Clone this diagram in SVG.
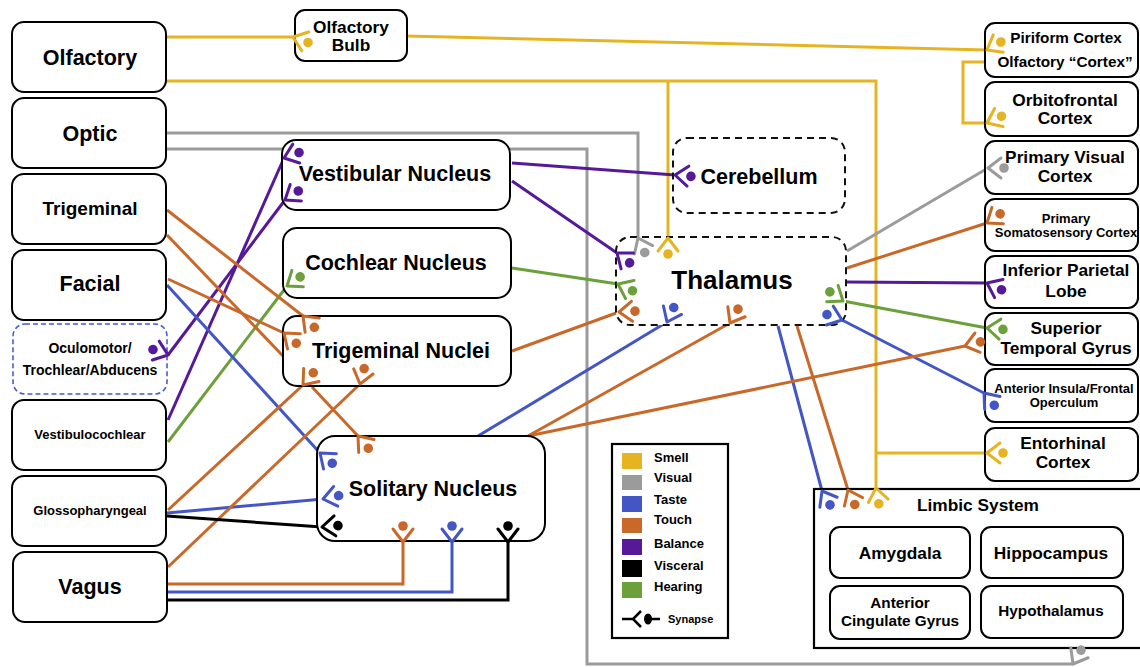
<svg xmlns="http://www.w3.org/2000/svg" xmlns:xlink="http://www.w3.org/1999/xlink" width="1140" height="667" viewBox="0 0 1140 667">
<style>
.bx{fill:#fff;stroke:#000;stroke-width:2}
.dash{fill:#fff;stroke:#111;stroke-width:2;stroke-dasharray:7 5}
.dashb{fill:#fff;stroke:#4A5BD0;stroke-width:1.6;stroke-dasharray:5 3}
.plain{fill:#fff;stroke:#000;stroke-width:2.2}
text{font-family:"Liberation Sans",Arial,sans-serif;font-weight:bold;fill:#000;text-anchor:middle}
.t21{font-size:21.5px}
.t19{font-size:19px}
.t26{font-size:26px}
.t17{font-size:17.3px}
.t15{font-size:15.3px}
.t14{font-size:14px}
.t13{font-size:13px}
.lg{font-size:13px;text-anchor:start}
.sm{font-size:11px;text-anchor:start}
#connectors path{fill:none;stroke-width:3}
.yel{stroke:#E6B422}.gry{stroke:#9B9B9B}.blu{stroke:#4356C4}.org{stroke:#C8692A}.pur{stroke:#55199A}.blk{stroke:#000}.grn{stroke:#6BA03A}
.cy{color:#E6B422}.cg{color:#9B9B9B}.cb{color:#4356C4}.co{color:#C8692A}.cp{color:#55199A}.ck{color:#000}.cn{color:#6BA03A}
</style>
<defs>
<g id="syn"><path d="M13,-10 L0,0 L13,10" fill="none" stroke="currentColor" stroke-width="3" stroke-linecap="round" stroke-linejoin="round"/><circle cx="16" cy="0" r="4.8" fill="currentColor"/></g>
</defs>
<rect width="1140" height="667" fill="#fff"/>

<g id="connectors">
<path class="yel" d="M166,37 H293"/>
<path class="yel" d="M407,36 L987,50"/>
<path class="yel" d="M985,62 H963 V123 H987"/>
<path class="yel" d="M166,81 H876 V488"/>
<path class="yel" d="M668,81 V238"/>
<path class="yel" d="M876,453 H987"/>
<path class="gry" d="M166,133 H638 V238"/>
<path class="gry" d="M166,149 H587 V664 H1073"/>
<path class="gry" d="M847,251 L988,168"/>
<path class="pur" d="M168,420 L284,158"/>
<path class="pur" d="M168,355 L285,200"/>
<path class="pur" d="M512,163 L675,175"/>
<path class="pur" d="M512,181 L617,253"/>
<path class="pur" d="M847,282 L987,283"/>
<path class="grn" d="M168,442 L287,286"/>
<path class="grn" d="M512,268 L618,284"/>
<path class="grn" d="M843,301 L987,328"/>
<path class="blu" d="M167,285 L320,453"/>
<path class="blu" d="M167,513 L323,499"/>
<path class="blu" d="M168,592 H452 V542"/>
<path class="blu" d="M478,436 L667,322"/>
<path class="blu" d="M778,326 L822,491"/>
<path class="blu" d="M842,320 L984,393"/>
<path class="org" d="M167,210 L303,316"/>
<path class="org" d="M167,235 L283,356"/>
<path class="org" d="M168,279 L284,333"/>
<path class="org" d="M168,510 L303,385"/>
<path class="org" d="M168,567 L360,384"/>
<path class="org" d="M312,387 L358,436"/>
<path class="org" d="M512,351 L619,312"/>
<path class="org" d="M528,436 L730,323"/>
<path class="org" d="M528,436 L965,346"/>
<path class="org" d="M847,268 L987,223"/>
<path class="org" d="M797,326 L848,490"/>
<path class="org" d="M168,584 H403 V542"/>
<path class="blk" d="M167,516 L322,527"/>
<path class="blk" d="M168,600 H508 V542"/>
</g>

<g id="n-olfactory"><rect class="bx" x="12" y="22" width="154" height="70" rx="12"/><text class="t21" x="90" y="64.5">Olfactory</text></g>
<g id="n-optic"><rect class="bx" x="12" y="98" width="154" height="70" rx="12"/><text class="t21" x="90" y="140.5">Optic</text></g>
<g id="n-trigeminal"><rect class="bx" x="12" y="174" width="154" height="70" rx="12"/><text class="t19" x="90" y="215">Trigeminal</text></g>
<g id="n-facial"><rect class="bx" x="12" y="250" width="154" height="70" rx="12"/><text class="t21" x="90" y="291">Facial</text></g>
<g id="n-oculomotor"><rect class="dashb" x="13" y="324" width="154" height="70" rx="12"/><text class="t14" x="90" y="353">Oculomotor/</text><text class="t14" x="90" y="375">Trochlear/Abducens</text></g>
<g id="n-vestibulocochlear"><rect class="bx" x="12" y="400" width="154" height="70" rx="12"/><text class="t13" x="90" y="439">Vestibulocochlear</text></g>
<g id="n-glossopharyngeal"><rect class="bx" x="12" y="476" width="154" height="70" rx="12"/><text class="t13" x="90" y="515">Glossopharyngeal</text></g>
<g id="n-vagus"><rect class="bx" x="13" y="552" width="154" height="70" rx="12"/><text class="t21" x="90" y="593.5">Vagus</text></g>

<g id="n-olfactory-bulb"><rect class="bx" x="295" y="10" width="112" height="51" rx="10"/><text class="t17" x="351" y="32.5">Olfactory</text><text class="t17" x="351" y="50.5">Bulb</text></g>
<g id="n-vestibular"><rect class="bx" x="282" y="140" width="228" height="70" rx="14"/><text class="t21" x="395" y="181">Vestibular Nucleus</text></g>
<g id="n-cochlear"><rect class="bx" x="283" y="228" width="228" height="70" rx="14"/><text class="t21" x="396" y="270">Cochlear Nucleus</text></g>
<g id="n-trigeminal-nuclei"><rect class="bx" x="283" y="316" width="228" height="70" rx="14"/><text class="t21" x="401" y="357.5">Trigeminal Nuclei</text></g>
<g id="n-solitary"><rect class="bx" x="317" y="436" width="228" height="105" rx="18"/><text class="t21" x="433" y="496">Solitary Nucleus</text></g>

<g id="n-cerebellum"><rect class="dash" x="673" y="138" width="172" height="75" rx="14"/><text class="t21" x="759" y="183.5">Cerebellum</text></g>
<g id="n-thalamus"><rect class="dash" x="616" y="237" width="230" height="88" rx="14"/><text class="t26" x="732" y="289">Thalamus</text></g>

<g id="n-piriform"><rect class="bx" x="985" y="23" width="153" height="54" rx="10"/><text class="t15" x="1066" y="43">Piriform Cortex</text><text class="t15" x="1065" y="66.5">Olfactory “Cortex”</text></g>
<g id="n-orbitofrontal"><rect class="bx" x="985" y="82" width="153" height="54" rx="10"/><text class="t17" x="1065" y="105.5">Orbitofrontal</text><text class="t17" x="1065" y="124">Cortex</text></g>
<g id="n-primary-visual"><rect class="bx" x="985" y="141" width="153" height="53" rx="10"/><text class="t17" x="1065" y="163">Primary Visual</text><text class="t17" x="1065" y="182">Cortex</text></g>
<g id="n-somatosensory"><rect class="bx" x="985" y="199" width="153" height="52" rx="10"/><text class="t13" x="1066" y="222.5">Primary</text><text class="t13" x="1066" y="236.5">Somatosensory Cortex</text></g>
<g id="n-inferior-parietal"><rect class="bx" x="985" y="256" width="153" height="52" rx="10"/><text class="t17" x="1066" y="276">Inferior Parietal</text><text class="t17" x="1066" y="297">Lobe</text></g>
<g id="n-superior-temporal"><rect class="bx" x="985" y="313" width="153" height="52" rx="10"/><text class="t17" x="1066" y="334">Superior</text><text class="t17" x="1066" y="354">Temporal Gyrus</text></g>
<g id="n-insula"><rect class="bx" x="985" y="369" width="153" height="53" rx="10"/><text class="t13" x="1064" y="392.5">Anterior Insula/Frontal</text><text class="t13" x="1064" y="406.5">Operculum</text></g>
<g id="n-entorhinal"><rect class="bx" x="985" y="428" width="153" height="53" rx="10"/><text class="t17" x="1063" y="449">Entorhinal</text><text class="t17" x="1063" y="468">Cortex</text></g>

<g id="n-limbic"><rect class="plain" x="814" y="489" width="340" height="159"/><text class="t17" x="978" y="511">Limbic System</text>
<g id="n-amygdala"><rect class="bx" x="830" y="527" width="140" height="51" rx="10"/><text class="t17" x="900" y="559">Amygdala</text></g>
<g id="n-hippocampus"><rect class="bx" x="981" y="527" width="142" height="51" rx="10"/><text class="t17" x="1051" y="559">Hippocampus</text></g>
<g id="n-cingulate"><rect class="bx" x="830" y="586" width="140" height="53" rx="10"/><text class="t15" x="900" y="608">Anterior</text><text class="t15" x="900" y="625.5">Cingulate Gyrus</text></g>
<g id="n-hypothalamus"><rect class="bx" x="981" y="586" width="142" height="52" rx="10"/><text class="t15" x="1051" y="616">Hypothalamus</text></g>
</g>

<g id="legend">
<rect class="plain" x="612" y="444" width="116" height="194"/>
<rect x="622" y="453" width="20" height="16" fill="#E6B422"/><text class="lg" x="654" y="461.5">Smell</text>
<rect x="622" y="475" width="20" height="15" fill="#9B9B9B"/><text class="lg" x="654" y="481.5">Visual</text>
<rect x="622" y="496" width="20" height="16" fill="#4356C4"/><text class="lg" x="654" y="503.5">Taste</text>
<rect x="622" y="518" width="20" height="15" fill="#C8692A"/><text class="lg" x="654" y="523.5">Touch</text>
<rect x="622" y="539" width="20" height="16" fill="#55199A"/><text class="lg" x="654" y="547.5">Balance</text>
<rect x="622" y="560" width="20" height="17" fill="#000"/><text class="lg" x="654" y="569.5">Visceral</text>
<rect x="622" y="582" width="20" height="16" fill="#6BA03A"/><text class="lg" x="654" y="590.5">Hearing</text>
<path d="M622,619 H633 M641,611 L633,619 L641,627 M648,619 H660" fill="none" stroke="#000" stroke-width="2.5"/>
<ellipse cx="648" cy="619" rx="4" ry="5.5" fill="#000"/>
<text class="sm" x="668" y="623">Synapse</text>
</g>

<g id="synapses">
<use href="#syn" class="cy" transform="translate(293,37) rotate(20)"/>
<use href="#syn" class="cy" transform="translate(987,50) rotate(-30)"/>
<use href="#syn" class="cy" transform="translate(987,123) rotate(-25)"/>
<use href="#syn" class="cy" transform="translate(668,238) rotate(90)"/>
<use href="#syn" class="cy" transform="translate(876,488) rotate(80)"/>
<use href="#syn" class="cy" transform="translate(987,453) rotate(0)"/>
<use href="#syn" class="cg" transform="translate(638,238) rotate(65)"/>
<use href="#syn" class="cg" transform="translate(1073,664) rotate(-60)"/>
<use href="#syn" class="cg" transform="translate(988,168) rotate(0)"/>
<use href="#syn" class="cp" transform="translate(284,158) rotate(-20)"/>
<use href="#syn" class="cp" transform="translate(285,200) rotate(-34)"/>
<use href="#syn" class="cp" transform="translate(168,355) rotate(200)"/>
<use href="#syn" class="cp" transform="translate(675,175) rotate(5)"/>
<use href="#syn" class="cp" transform="translate(617,253) rotate(38)"/>
<use href="#syn" class="cp" transform="translate(987,283) rotate(25)"/>
<use href="#syn" class="cn" transform="translate(287,286) rotate(-35)"/>
<use href="#syn" class="cn" transform="translate(618,284) rotate(25)"/>
<use href="#syn" class="cn" transform="translate(987,328) rotate(5)"/>
<use href="#syn" class="cn" transform="translate(843,301) rotate(215)"/>
<use href="#syn" class="cb" transform="translate(320,453) rotate(40)"/>
<use href="#syn" class="cb" transform="translate(323,499) rotate(-12)"/>
<use href="#syn" class="cb" transform="translate(452,542) rotate(-90)"/>
<use href="#syn" class="cb" transform="translate(667,322) rotate(-65)"/>
<use href="#syn" class="cb" transform="translate(822,491) rotate(60)"/>
<use href="#syn" class="cb" transform="translate(984,393) rotate(50)"/>
<use href="#syn" class="cb" transform="translate(842,320) rotate(200)"/>
<use href="#syn" class="co" transform="translate(303,316) rotate(45)"/>
<use href="#syn" class="co" transform="translate(284,333) rotate(40)"/>
<use href="#syn" class="co" transform="translate(303,385) rotate(-50)"/>
<use href="#syn" class="co" transform="translate(360,384) rotate(-75)"/>
<use href="#syn" class="co" transform="translate(358,436) rotate(50)"/>
<use href="#syn" class="co" transform="translate(619,312) rotate(-3)"/>
<use href="#syn" class="co" transform="translate(730,323) rotate(-60)"/>
<use href="#syn" class="co" transform="translate(965,346) rotate(-15)"/>
<use href="#syn" class="co" transform="translate(987,223) rotate(-35)"/>
<use href="#syn" class="co" transform="translate(848,490) rotate(65)"/>
<use href="#syn" class="co" transform="translate(403,542) rotate(-90)"/>
<use href="#syn" class="ck" transform="translate(322,527) rotate(-5)"/>
<use href="#syn" class="ck" transform="translate(508,542) rotate(-90)"/>
</g>
</svg>
